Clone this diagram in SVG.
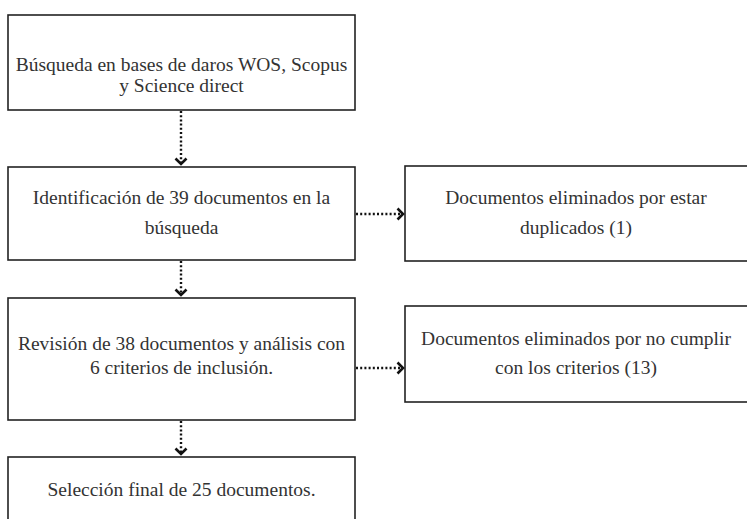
<svg xmlns="http://www.w3.org/2000/svg" width="747" height="519" viewBox="0 0 747 519">
<style>
.box{fill:#fff;stroke:#222;stroke-width:1.6}
.t{font-family:"Liberation Serif","Times New Roman",serif;font-size:19.5px;fill:#333;text-anchor:middle}
.c{fill:none;stroke:#111;stroke-width:2.4;stroke-dasharray:2 2.2}
.h{fill:none;stroke:#111;stroke-width:2.6;stroke-linejoin:miter}
</style>
<rect width="747" height="519" fill="#fff"/>
<g id="n1"><rect class="box" x="8" y="15" width="347" height="95"/>
<text class="t" x="181.5" y="71">Búsqueda en bases de daros WOS, Scopus</text>
<text class="t" x="181.5" y="92">y Science direct</text></g>
<g id="n2"><rect class="box" x="8" y="167" width="347" height="93"/>
<text class="t" x="181.5" y="204">Identificación de 39 documentos en la</text>
<text class="t" x="181.5" y="234">búsqueda</text></g>
<g id="n3"><rect class="box" x="405" y="166" width="345" height="95"/>
<text class="t" x="576" y="204">Documentos eliminados por estar</text>
<text class="t" x="576" y="234">duplicados (1)</text></g>
<g id="n4"><rect class="box" x="8" y="298" width="347" height="122"/>
<text class="t" x="181.5" y="350">Revisión de 38 documentos y análisis con</text>
<text class="t" x="181.5" y="374">6 criterios de inclusión.</text></g>
<g id="n5"><rect class="box" x="405" y="306" width="345" height="96"/>
<text class="t" x="576" y="345">Documentos eliminados por no cumplir</text>
<text class="t" x="576" y="374">con los criterios (13)</text></g>
<g id="n6"><rect class="box" x="8" y="457" width="347" height="80"/>
<text class="t" x="181.5" y="496">Selección final de 25 documentos.</text></g>
<g id="connectors">
<line class="c" x1="181" y1="111" x2="181" y2="163"/>
<polyline class="h" points="175.5,158.5 181,164 186.5,158.5"/>
<line class="c" x1="181" y1="261" x2="181" y2="294"/>
<polyline class="h" points="175.5,289.5 181,295 186.5,289.5"/>
<line class="c" x1="181" y1="421" x2="181" y2="453"/>
<polyline class="h" points="175.5,448.5 181,454 186.5,448.5"/>
<line class="c" x1="356" y1="214" x2="401" y2="214"/>
<polyline class="h" points="397.5,208.5 403,214 397.5,219.5"/>
<line class="c" x1="356" y1="368" x2="401" y2="368"/>
<polyline class="h" points="397.5,362.5 403,368 397.5,373.5"/>
</g>
</svg>
